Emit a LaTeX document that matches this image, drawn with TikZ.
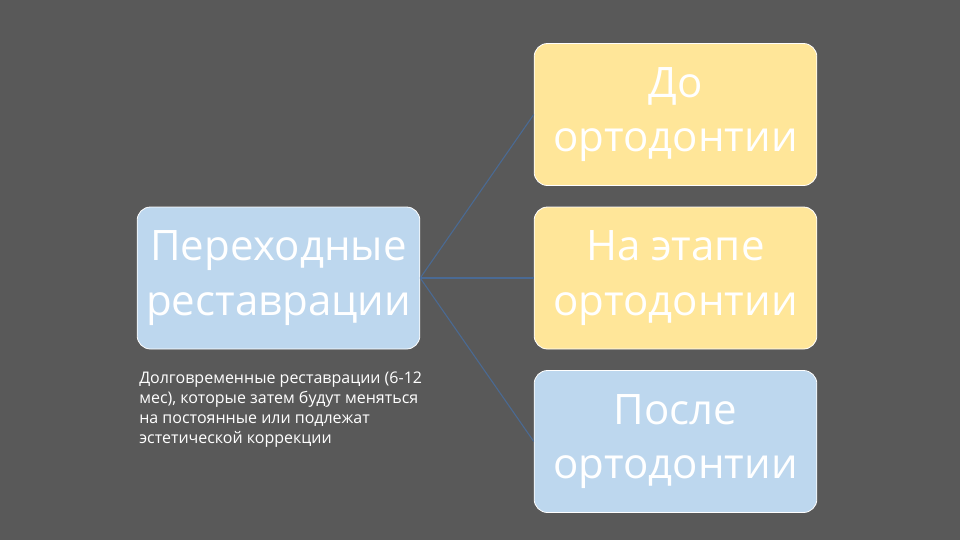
\documentclass[tikz,border=0pt]{standalone}
\usepackage{fontspec}
\setmainfont{Open Sans}
\definecolor{bg}{HTML}{595959}
\definecolor{boxyellow}{HTML}{FFE699}
\definecolor{boxblue}{HTML}{BDD7EE}
\definecolor{linkblue}{HTML}{4A6A94}
\begin{document}
\begin{tikzpicture}[x=0.75pt,y=-0.75pt,
  card/.style={draw=white,line width=0.6pt,rounded corners=10pt,minimum width=212pt,minimum height=106.5pt,
    align=center,text=white,font=\fontsize{31.5}{41}\selectfont,inner sep=0pt},
  link/.style={draw=linkblue,line width=0.8pt}]
\fill[bg] (0,0) rectangle (960,540);
\useasboundingbox (0,0) rectangle (960,540);
\node[card,fill=boxblue] (main) at (278.5,278) {Переходные\\реставрации};
\node[card,fill=boxyellow] (before) at (675.5,114.5) {До\\ортодонтии};
\node[card,fill=boxyellow] (during) at (675.5,278) {На этапе\\ортодонтии};
\node[card,fill=boxblue] (after) at (675.5,441.5) {После\\ортодонтии};
\node[anchor=north west,text=white,align=left,inner sep=0pt,font=\fontsize{12}{15}\selectfont] (note) at (139,372)
 {Долговременные реставрации (6-12\\мес), которые затем будут меняться\\на постоянные или подлежат\\эстетической коррекции};
\draw[link] (main.east) -- (before.west);
\draw[link,line width=1.2pt] (main.east) -- (during.west);
\draw[link] (main.east) -- (after.west);
\end{tikzpicture}
\end{document}
